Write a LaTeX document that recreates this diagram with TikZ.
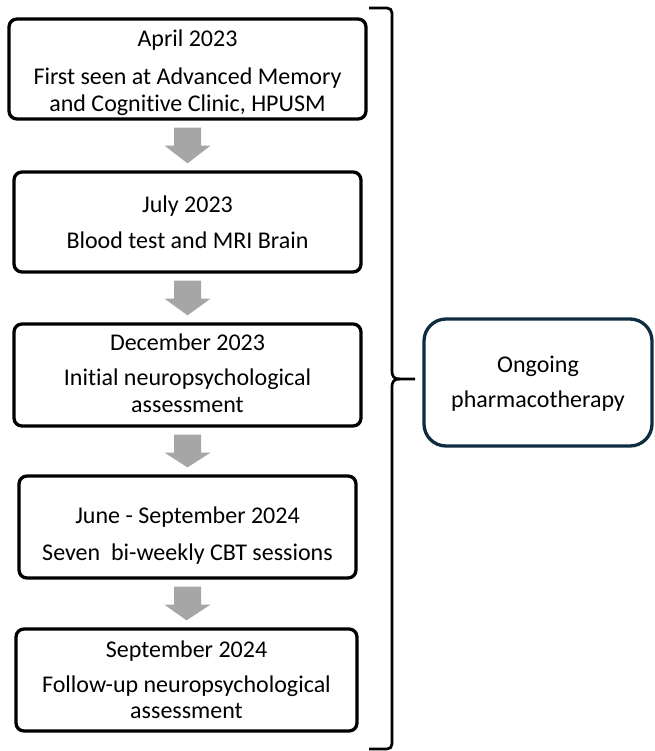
\documentclass[tikz,border=0pt]{standalone}
\usepackage{fontspec}
\setmainfont{Carlito}[Ligatures={NoCommon,NoContextual}]
\usetikzlibrary{calc}
\definecolor{arrowgray}{HTML}{A6A6A6}
\definecolor{navy}{HTML}{0E2D40}
\tikzset{
  stepbox/.style={draw=black, line width=3.3pt, rounded corners=8pt, rectangle, inner sep=0pt},
  sidebox/.style={draw=navy, line width=3.3pt, rounded corners=22pt, rectangle, inner sep=0pt},
  txt/.style={anchor=base, inner sep=0pt, font=\fontsize{24}{28}\selectfont},
  blockarrow/.style={fill=arrowgray, draw=none},
  bracket/.style={draw=black, line width=2.7pt, line join=round}
}
\newcommand{\blockarr}[2]{%
  \fill[blockarrow] ($(#1.south)+(-13.5,7)$) -- ($(#1.south)+(13.5,7)$) -- ($(#1.south)+(13.5,25)$) -- ($(#1.south)+(23,25)$) -- ($(#2.north)+(0,-7)$) -- ($(#1.south)+(-23,25)$) -- ($(#1.south)+(-13.5,25)$) -- cycle;}
\begin{document}
\begin{tikzpicture}[x=1pt,y=-1pt]
\useasboundingbox (0,0) rectangle (654,751);
% boxes
\node[stepbox, minimum width=357pt, minimum height=100pt] (b1) at (187.5,69) {};
\node[stepbox, minimum width=347pt, minimum height=100pt] (b2) at (187.5,222) {};
\node[stepbox, minimum width=347pt, minimum height=102pt] (b3) at (187.5,375) {};
\node[stepbox, minimum width=337pt, minimum height=102pt] (b4) at (187.5,527) {};
\node[stepbox, minimum width=341pt, minimum height=102pt] (b5) at (186.5,680) {};
\node[sidebox, minimum width=228pt, minimum height=127pt] (rb) at (538,382.5) {};
% texts
\node[txt] (t1a) at (187.5,47) {April 2023};
\node[txt] (t1b) at (187.5,85) {First seen at Advanced Memory};
\node[txt] (t1c) at (187.5,112) {and Cognitive Clinic, HPUSM};
\node[txt] (t2a) at (187.5,212) {July 2023};
\node[txt] (t2b) at (187.5,248) {Blood test and MRI Brain};
\node[txt] (t3a) at (187.5,350) {December 2023};
\node[txt] (t3b) at (187.5,385) {Initial neuropsychological};
\node[txt] (t3c) at (187.5,412) {assessment};
\node[txt] (t4a) at (187.5,523) {June - September 2024};
\node[txt] (t4b) at (187.5,560) {Seven\ \ bi-weekly CBT sessions};
\node[txt] (t5a) at (186.5,657) {September 2024};
\node[txt] (t5b) at (186.5,692) {Follow-up neuropsychological};
\node[txt] (t5c) at (186.5,718) {assessment};
\node[txt] (r1) at (538,372) {Ongoing};
\node[txt] (r2) at (538,407) {pharmacotherapy};
% arrows
\blockarr{b1}{b2}
\blockarr{b2}{b3}
\blockarr{b3}{b4}
\blockarr{b4}{b5}
% bracket
\coordinate (bt) at (415,379);
\draw[bracket] (369,8) -- (387,8) .. controls (390,8) and (392,10) .. (392,13)
  -- (392,370) .. controls (392,377) and (394,379) .. (400,379) -- (bt);
\draw[bracket] (400,379) .. controls (394,379) and (392,381) .. (392,388)
  -- (392,744) .. controls (392,747) and (390,749) .. (387,749) -- (369,749);
\end{tikzpicture}
\end{document}
